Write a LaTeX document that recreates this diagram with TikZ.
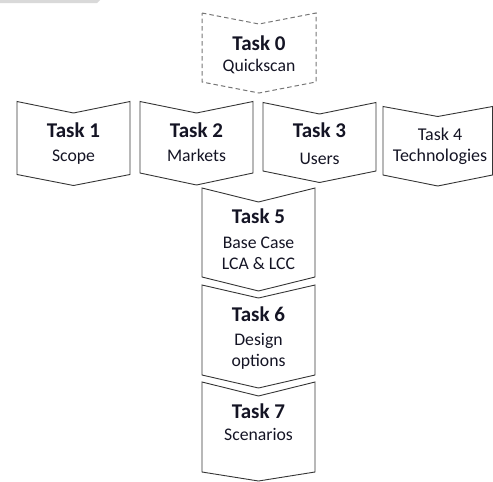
\documentclass[tikz,border=0pt]{standalone}
\usepackage{fontspec}
\setmainfont{Carlito}
\definecolor{edgegray}{HTML}{353535}
\definecolor{dashgray}{HTML}{767676}
\definecolor{inkdark}{HTML}{141424}
\definecolor{bargray}{HTML}{D9D9D9}
% chevron outline: #1 style, #2 left, #3 right, #4 top corners, #5 top notch,
% #6 bottom corners, #7 bottom tip
\newcommand\chevron[7]{%
  \draw[#1] (#2,#4) -- ({(#2+#3)/2},#5) -- (#3,#4) -- (#3,#6)
    -- ({(#2+#3)/2},#7) -- (#2,#6) -- cycle;}
\tikzset{
  box/.style={draw=edgegray, line width=0.9pt, line join=miter},
  dashbox/.style={draw=dashgray, line width=1pt, dash pattern=on 4.5pt off 3pt},
  title/.style={anchor=base, inner sep=0pt, text=inkdark, font=\fontsize{21}{21}\selectfont\bfseries},
  titleplain/.style={anchor=base, inner sep=0pt, text=inkdark, font=\fontsize{18}{18}\selectfont},
  sub/.style={anchor=base, inner sep=0pt, text=inkdark, font=\fontsize{17.7}{17.7}\selectfont},
}
\begin{document}
\begin{tikzpicture}[x=1pt, y=-1pt]
\useasboundingbox (0,0) rectangle (493,482);
% strip along the top edge
\fill[bargray] (0,0) -- (100,0) -- (97,3) -- (0,3) -- cycle;

% Task 0
\chevron{dashbox}{202}{316}{13}{24}{82}{93}
\node[title] (t0) at (259,50) {Task 0};
\node[sub] (s0) at (259,71.5) {Quickscan};

% Task 1 - 4
\chevron{box}{17}{130}{101.5}{113}{174.5}{185.5}
\node[title] (t1) at (73.5,137) {Task 1};
\node[sub] (s1) at (73.5,161) {Scope};

\chevron{box}{140}{253}{101.5}{113}{173}{185}
\node[title] (t2) at (196.5,137) {Task 2};
\node[sub] (s2) at (196.5,161) {Markets};

\chevron{box}{263}{376}{102.5}{114}{171}{182.5}
\node[title] (t3) at (319.5,137) {Task 3};
\node[sub] (s3) at (319.5,164) {Users};

\chevron{box}{383}{492.5}{106.5}{116.5}{175}{186}
\node[titleplain] (t4) at (440,140) {Task 4};
\node[titleplain] (s4) at (440,161) {Technologies};

% Task 5 - 7 column
\chevron{box}{202}{315}{188}{202}{277}{291}
\node[title] (t5) at (258.5,223) {Task 5};
\node[sub] (s5a) at (258.5,248) {Base Case};
\node[sub] (s5b) at (258.5,269) {LCA \& LCC};

\chevron{box}{202}{315}{285}{298}{375}{388}
\node[title] (t6) at (258.5,321.5) {Task 6};
\node[sub] (s6a) at (258.5,345) {Design};
\node[sub] (s6b) at (258.5,366.5) {options};

\chevron{box}{202}{315}{382}{396}{472}{481}
\node[title] (t7) at (258.5,418) {Task 7};
\node[sub] (s7) at (258.5,440) {Scenarios};
\end{tikzpicture}
\end{document}
